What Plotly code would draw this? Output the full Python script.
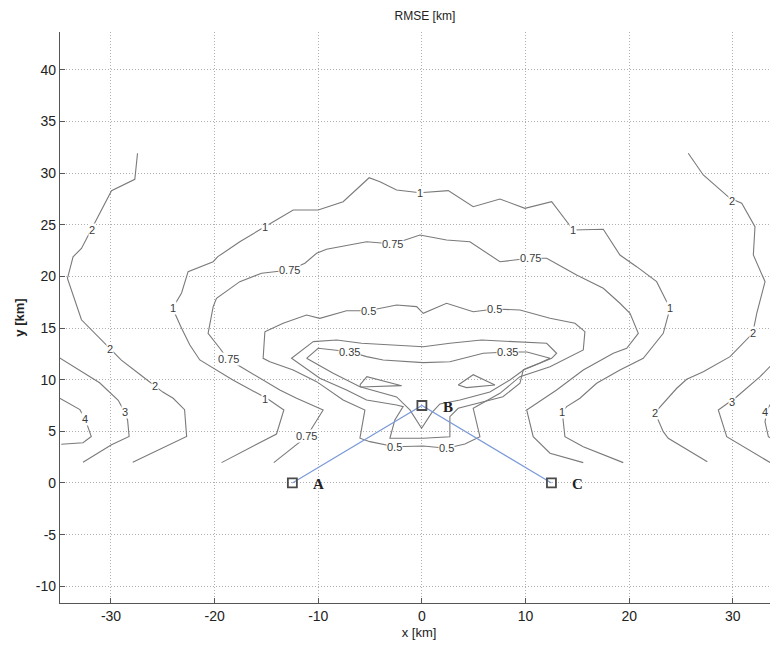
import plotly.graph_objects as go

# ---- contour polylines (km) ----
c1_x = [-19.33, -14.03, -13.32, -14.86, -18.24, -21.43, -22.39, -23.19, -24.06, -23.19, -22.56, -20.14, -19.69,
        -17.57, -15.15, -12.42, -10.01, -7.60, -5.09, -4.05, -2.44, -0.19, 2.54, 4.95, 7.53, 9.94, 12.52, 14.60,
        17.50, 19.11, 20.72, 22.65, 23.94, 23.29, 21.36, 19.11, 16.86, 15.25, 13.97, 13.54, 13.80, 15.57, 19.43]
c1_y = [1.97, 4.74, 7.07, 8.13, 9.97, 11.91, 13.36, 14.98, 16.91, 18.39, 20.46, 21.42, 21.91,
        23.36, 24.81, 26.43, 26.43, 27.23, 29.55, 29.17, 28.36, 28.10, 28.30, 26.75, 27.49, 26.59, 27.23, 24.49,
        24.56, 22.07, 20.94, 19.49, 16.91, 14.49, 12.07, 10.94, 9.65, 8.20, 7.39, 6.90, 4.48, 3.51, 1.97]

c075_x = [-14.29, -11.13, -9.53, -12.09, -13.71, -17.40, -18.73, -19.50, -20.63, -20.14, -19.82, -17.57, -15.47,
          -12.74, -11.29, -10.16, -9.20, -5.34, -2.77, -0.19, 2.38, 4.63, 7.53, 10.42, 12.04, 14.93, 17.50, 19.11,
          20.08, 20.88, 19.76, 18.47, 15.57, 13.00, 10.11, 10.74, 12.36, 15.57]
c075_y = [1.97, 4.48, 7.07, 8.20, 9.00, 11.26, 12.00, 13.04, 14.49, 17.07, 17.88, 19.49, 20.30,
          20.62, 21.27, 22.24, 22.62, 23.36, 23.14, 24.01, 23.52, 23.36, 21.42, 21.75, 21.75, 20.14, 18.85, 17.40,
          16.43, 14.49, 13.04, 12.56, 10.94, 9.00, 7.07, 4.48, 2.88, 1.97]

c05_x = [-15.15, -13.39, -11.13, -9.85, -7.27, -5.18, -2.44, -0.51, 0.13, 2.38, 4.95, 7.05, 9.46, 12.36, 14.77,
         15.73, 15.57, 12.36, 9.46, 7.53, 4.95, 5.60, 4.15, 2.38, 0.13, -2.61, -5.02, -5.98, -5.50, -7.60, -10.16,
         -12.42, -14.67, -15.32, -15.15]
c05_y = [14.65, 15.46, 16.26, 15.94, 16.68, 16.68, 17.23, 17.07, 16.43, 17.40, 16.58, 16.84, 16.75, 15.94, 15.46,
         14.65, 12.88, 11.26, 10.29, 8.68, 7.23, 4.48, 3.78, 3.36, 3.58, 3.51, 4.00, 4.33, 7.07, 8.03, 9.81,
         10.94, 11.74, 12.07, 14.65]

c04_x = [-10.49, -8.23, -5.82, -2.44, 0.13, 2.70, 5.76, 12.04, 13.00, 12.52, 9.78, 9.46, 7.82, 3.50, 2.70, 2.70,
         0.13, -3.09, -2.61, -1.81, -2.44, -5.34, -7.27, -9.85, -12.58, -10.49]
c04_y = [13.68, 13.84, 13.52, 13.36, 13.19, 13.52, 13.84, 13.52, 12.56, 12.07, 10.94, 9.65, 8.35, 7.23, 6.42, 4.48,
         4.33, 4.33, 6.10, 7.39, 7.55, 8.03, 9.00, 10.14, 12.07, 13.68]

c035_x = [-11.13, -10.01, -6.95, -5.34, -3.74, 0.13, 2.70, 5.92, 8.30, 10.14, 12.36, 11.39, 9.94, 8.49, 6.56, 3.67,
          1.74, 0.94, -0.03, -1.16, -2.44, -5.98, -8.56, -11.13]
c035_y = [12.07, 13.04, 12.71, 12.23, 11.91, 11.65, 11.74, 12.56, 12.68, 12.68, 12.07, 11.62, 11.04, 9.97, 8.81, 8.03,
          7.65, 6.78, 5.30, 7.07, 8.33, 9.32, 10.62, 12.07]

c03a_x = [-5.98, -5.31, -1.96, -5.89, -5.98]
c03a_y = [9.49, 10.29, 9.42, 9.29, 9.49]
c03b_x = [3.50, 4.95, 7.05, 4.31, 3.50]
c03b_y = [9.49, 10.48, 9.49, 9.23, 9.49]

c2l_x = [-27.44, -27.70, -29.95, -31.40, -32.85, -33.66, -34.20, -32.85, -30.10, -29.00, -27.20, -25.80, -25.00,
         -24.00, -22.90, -22.70, -27.90]
c2l_y = [31.92, 29.40, 28.30, 25.50, 22.70, 21.90, 19.80, 15.80, 13.00, 11.90, 10.50, 9.40, 8.80,
         8.20, 7.10, 4.50, 2.00]
c2r_x = [25.70, 27.15, 29.73, 30.86, 32.14, 31.98, 33.11, 32.31, 31.92, 29.73, 27.15, 25.55, 24.59, 22.49, 23.29,
         23.77, 27.54]
c2r_y = [31.92, 29.82, 27.56, 27.08, 24.81, 22.07, 19.49, 16.43, 14.49, 12.23, 10.77, 10.04, 9.17, 6.81, 4.97,
         4.33, 2.06]

c3l_x = [-34.95, -33.00, -31.10, -29.30, -28.70, -28.40, -28.25, -29.95, -32.70]
c3l_y = [12.10, 10.90, 9.70, 8.00, 6.90, 6.10, 4.50, 3.70, 2.00]
c3r_x = [35.0, 34.36, 32.63, 30.38, 28.60, 29.41, 33.59, 35.0]
c3r_y = [12.6, 12.07, 10.29, 8.35, 7.07, 4.48, 1.98, 1.60]

c4l_x = [-34.95, -33.00, -32.50, -32.20, -31.90, -32.70, -34.80]
c4l_y = [8.20, 7.10, 6.20, 5.40, 4.50, 3.90, 3.75]
c4r_x = [35.0, 34.36, 33.27, 33.11, 33.43, 34.36, 35.0]
c4r_y = [9.2, 8.68, 7.07, 5.90, 4.48, 4.00, 3.80]

contour_lines = [
    (1, c1_x, c1_y), (0.75, c075_x, c075_y), (0.5, c05_x, c05_y), (0.4, c04_x, c04_y),
    (0.35, c035_x, c035_y), (0.3, c03a_x, c03a_y), (0.3, c03b_x, c03b_y),
    (2, c2l_x, c2l_y), (2, c2r_x, c2r_y), (3, c3l_x, c3l_y), (3, c3r_x, c3r_y),
    (4, c4l_x, c4l_y), (4, c4r_x, c4r_y),
]

# contour labels (text, x, y)
label_text = ["1", "1", "1", "1", "1", "1", "1",
              "0.75", "0.75", "0.75", "0.75", "0.75",
              "0.5", "0.5", "0.5", "0.5",
              "0.35", "0.35",
              "2", "2", "2", "2", "2", "2",
              "3", "3", "4", "4"]
label_x = [-15.15, -0.19, 14.60, -24.06, 23.94, -15.15, 13.51,
           -12.74, -2.80, 10.50, -18.70, -11.10,
           -5.18, 7.05, -2.61, 2.38,
           -6.95, 8.30,
           -31.85, -30.12, -25.77, 29.89, 31.92, 22.49,
           -28.67, 29.89, -32.50, 33.10]
label_y = [24.81, 28.10, 24.49, 16.91, 16.91, 8.13, 6.87,
           20.62, 23.10, 21.80, 12.00, 4.50,
           16.68, 16.84, 3.51, 3.36,
           12.71, 12.68,
           24.49, 12.97, 9.39, 27.30, 14.49, 6.81,
           6.90, 7.87, 6.20, 6.90]

# receivers
stn_names = ["A", "B", "C"]
stn_x = [-12.5, 0.0, 12.5]
stn_y = [0.0, 7.5, 0.0]

# ticks
x_ticks = [-30, -20, -10, 0, 10, 20, 30]
y_ticks = [-10, -5, 0, 5, 10, 15, 20, 25, 30, 35, 40]

fig = go.Figure()
for lvl, xs, ys in contour_lines:
    fig.add_trace(go.Scatter(x=xs, y=ys, mode="lines", line=dict(color="#7a7a7a", width=1.1),
                             name=str(lvl), hoverinfo="skip", showlegend=False))

fig.add_trace(go.Scatter(x=stn_x, y=stn_y, mode="lines", line=dict(color="#7b9ad8", width=1.2),
                         showlegend=False, hoverinfo="skip"))
fig.add_trace(go.Scatter(x=stn_x, y=stn_y, mode="markers",
                         marker=dict(symbol="square-open", size=9, color="#4a4a4a", line=dict(width=1.8)),
                         showlegend=False, hoverinfo="skip"))

for name, x, y in zip(stn_names, stn_x, stn_y):
    fig.add_annotation(x=x, y=y, text="<b>" + name + "</b>", showarrow=False, xshift=26, yshift=-1,
                       font=dict(family="Liberation Serif", size=15, color="#222"))

for t, x, y in zip(label_text, label_x, label_y):
    fig.add_annotation(x=x, y=y, text=t, showarrow=False, bgcolor="white", borderpad=0,
                       font=dict(family="Liberation Sans", size=11, color="#3a3a3a"))

axis_common = dict(showgrid=True, gridcolor="#b0b0b0", griddash="1px,2px", gridwidth=1, zeroline=False,
                   showline=True, linecolor="#555", linewidth=1.2, ticks="inside", ticklen=5,
                   tickcolor="#555", mirror=False, automargin=False,
                   tickfont=dict(family="Liberation Sans", size=14, color="#222"))

# page body adds an 8px margin, so the figure is sized to fill the rest of the window
fig.update_layout(
    width=770, height=644,
    margin=dict(l=52, r=0, t=24, b=49),
    paper_bgcolor="white", plot_bgcolor="white",
    title=dict(text="RMSE [km]", x=0.5415, xanchor="center", y=0.994, yanchor="top",
               font=dict(family="Liberation Sans", size=12, color="#222")),
    xaxis=dict(range=[-34.92, 34.36], tickvals=x_ticks, ticktext=[str(v) for v in x_ticks],
               title=dict(text="x [km]", font=dict(family="Liberation Sans", size=13, color="#222"), standoff=4),
               **axis_common),
    yaxis=dict(range=[-11.62, 43.66], tickvals=y_ticks, ticktext=[str(v) for v in y_ticks],
               title=dict(text="<b>y [km]</b>", font=dict(family="Liberation Sans", size=13, color="#222"), standoff=8),
               **axis_common),
)

fig.write_html("out.html")
